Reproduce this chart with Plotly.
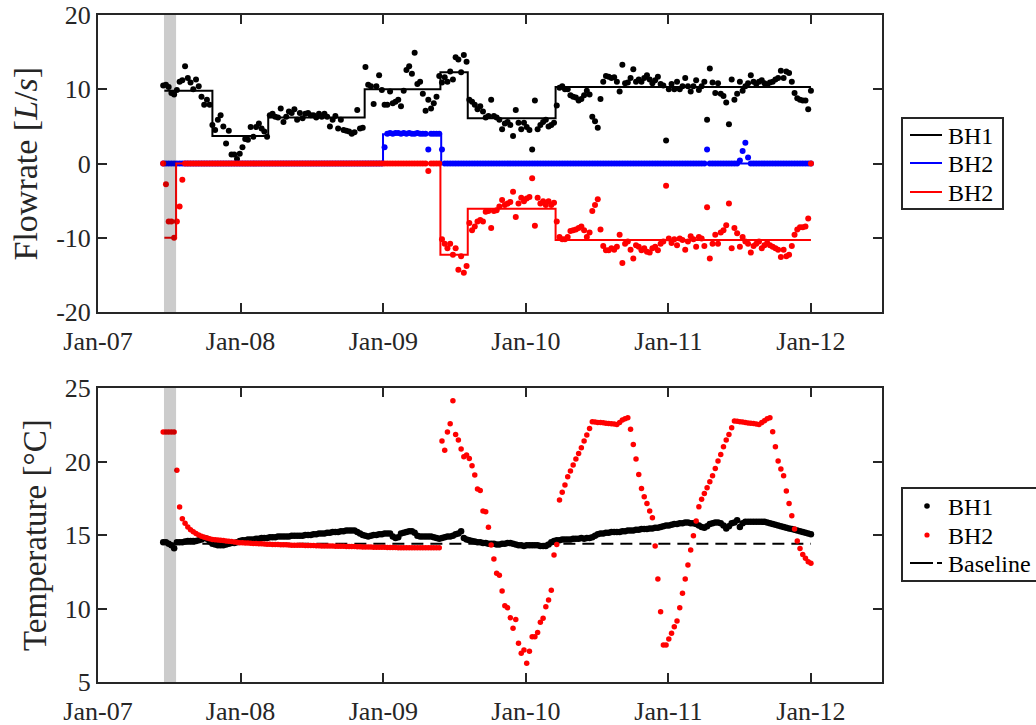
import pandas as pd
import plotly.graph_objects as go

# ---------------------------------------------------------------------------
# Weekly monitoring record, June 2007 - January 2012
# ---------------------------------------------------------------------------
sample_start = "2007-06-17"

# Flowrate of borehole BH1 [L/s]
bh1_flow = [
    10.5, 10.6, 10.3, 9.5, 9.3, 9.9, 11.0, 11.2, 13.1, 11.5,
    10.9, 10.0, 11.3, 10.4, 9.0, 7.9, 8.6, 7.9, 5.2, 4.5,
    5.9, 6.5, 5.0, 2.7, 4.4, 1.2, 1.2, 0.6, 1.3, 2.2,
    3.3, 3.2, 4.9, 3.6, 4.9, 5.4, 4.7, 4.3, 3.6, 6.5,
    6.7, 6.3, 6.2, 7.4, 5.6, 6.3, 7.0, 6.8, 7.3, 5.9,
    6.8, 6.1, 6.7, 6.8, 6.5, 6.5, 6.2, 6.7, 6.3, 6.7,
    6.3, 5.0, 5.9, 6.4, 4.7, 5.9, 4.5, 4.4, 4.3, 4.0,
    4.2, 7.2, 4.7, 4.8, 13.0, 10.6, 10.4, 8.0, 10.4, 11.9,
    9.9, 7.9, 7.9, 9.7, 8.1, 8.3, 8.6, 7.7, 9.8, 12.6,
    13.1, 12.1, 14.9, 10.7, 11.0, 9.4, 7.1, 8.6, 7.4, 8.1,
    9.0, 11.8, 10.9, 11.6, 11.0, 12.4, 11.3, 14.3, 14.0, 12.3,
    14.6, 13.7, 8.6, 8.3, 7.9, 7.3, 7.7, 7.0, 6.2, 6.4,
    8.6, 6.4, 6.2, 5.9, 4.6, 5.4, 5.6, 5.2, 3.7, 7.2,
    5.5, 4.6, 5.5, 4.9, 4.5, 1.9, 8.5, 4.6, 5.2, 5.6,
    5.9, 5.0, 5.2, 5.5, 7.8, 10.2, 10.4, 10.0, 10.0, 9.2,
    9.0, 8.9, 8.5, 8.7, 9.2, 9.8, 9.3, 6.3, 5.7, 4.8,
    8.7, 11.0, 11.8, 11.7, 11.5, 11.6, 11.0, 9.7, 13.3, 10.8,
    10.9, 11.5, 12.7, 11.0, 11.3, 11.0, 11.5, 11.9, 11.3, 10.8,
    11.2, 11.7, 10.7, 10.5, 3.1, 10.0, 10.7, 10.0, 11.0, 10.0,
    10.4, 11.5, 10.4, 9.7, 10.4, 11.2, 9.9, 10.4, 11.0, 5.9,
    12.8, 10.9, 9.5, 10.8, 9.4, 9.1, 8.2, 5.3, 11.3, 8.6,
    9.4, 11.0, 9.8, 10.4, 10.8, 11.9, 11.0, 10.7, 11.0, 11.2,
    10.8, 10.6, 10.9, 11.0, 11.3, 11.5, 12.5, 11.5, 12.4, 12.2,
    11.0, 9.5, 8.8, 8.6, 8.5, 8.5, 7.3, 9.8,
]

# Flowrate of borehole BH2, injection side [L/s]
bh2_flow_in = (
    [0.0] * 81
    + [2.2]
    + [4.0, 4.1, 4.0, 4.1, 4.1, 4.0, 4.1, 4.0, 4.1, 4.0, 4.0, 4.1, 4.0, 4.0, 4.0]
    + [1.9]
    + [4.0, 4.0, 4.0, 4.0]
    + [1.9]
    + [0.0] * 96
    + [1.9]
    + [0.0] * 11
    + [0.4, 1.7, 2.8, 0.8]
    + [0.0] * 23
)

# Flowrate of borehole BH2, extraction side [L/s]
bh2_flow_out = (
    [0.0, -2.8, -7.8, -7.8, -10.0, -7.8, -5.8, -2.2, 0.0, 0.0]
    + [0.0] * 87
    + [-1.0]
    + [0.0] * 4
    + [
        -10.2, -10.8, -11.4, -10.8, -12.3, -11.4, -14.3, -12.5,
        -14.7, -13.8, -8.0, -9.0, -8.5, -7.8, -7.6, -7.8, -6.5, -6.4,
        -8.7, -6.4, -6.3, -5.8, -4.9, -5.6, -5.4, -5.2, -3.8, -7.2,
        -5.4, -4.6, -5.1, -4.7, -4.5, -2.0, -8.4, -4.6, -5.4, -5.1,
        -5.6, -5.1, -5.6, -5.3, -7.8, -9.9, -10.2, -10.2, -9.9, -9.1,
        -9.0, -8.9, -8.7, -8.5, -9.0, -9.9, -9.3, -6.4, -5.6, -4.8,
        -8.9, -11.1, -11.7, -11.7, -11.4, -11.6, -11.2, -9.6, -13.4, -10.8,
        -10.5, -11.6, -12.8, -11.0, -11.2, -11.7, -11.4, -11.9, -12.0, -11.4,
        -11.2, -11.7, -10.8, -10.5, -3.0, -10.1, -10.7, -10.2, -11.0, -10.1,
        -10.3, -11.6, -10.5, -9.8, -10.2, -11.2, -9.9, -10.1, -11.1, -5.9,
        -12.8, -10.8, -9.6, -10.8, -9.3, -9.0, -8.3, -5.4, -11.4, -8.7,
        -9.4, -11.2, -9.9, -10.5, -10.8, -12.0, -11.1, -10.8, -10.5, -11.4,
        -11.0, -10.7, -11.0, -11.2, -11.4, -11.6, -12.6, -11.6, -12.5, -12.3,
        -11.1, -9.6, -8.9, -8.6, -8.6, -8.5, -7.4, 0.0,
    ]
)

# Operating set-points (piecewise constant schedules)
bh1_step_dates = ["2007-06-20", "2007-10-21", "2008-03-12", "2008-11-14",
                  "2009-05-27", "2009-08-05", "2010-03-18", "2012-01-01"]
bh1_step_values = [9.8, 3.7, 6.2, 10.0, 12.3, 6.1, 10.3, 10.3]

bh2_in_step_dates = ["2007-06-20", "2008-12-31", "2009-05-29", "2012-01-01"]
bh2_in_step_values = [0.0, 3.95, 0.0, 0.0]

bh2_out_step_dates = ["2007-06-20", "2007-07-20", "2009-05-27", "2009-08-05",
                      "2010-03-18", "2012-01-01"]
bh2_out_step_values = [-10.0, 0.0, -12.3, -6.1, -10.3, -10.3]

# Water temperature [deg C]
bh1_temp = [
    14.5, 14.5, 14.4, 14.3, 14.1, 14.5, 14.5, 14.5, 14.55, 14.6,
    14.6, 14.6, 14.6, 14.65, 14.7, 14.8, 14.75, 14.55, 14.4, 14.35,
    14.3, 14.3, 14.3, 14.35, 14.4, 14.45, 14.45, 14.5, 14.6, 14.65,
    14.65, 14.7, 14.7, 14.7, 14.75, 14.75, 14.8, 14.8, 14.8, 14.85,
    14.85, 14.85, 14.9, 14.9, 14.9, 14.9, 14.9, 14.95, 14.95, 14.95,
    14.95, 14.95, 15.0, 15.0, 15.0, 15.05, 15.05, 15.1, 15.1, 15.1,
    15.15, 15.15, 15.2, 15.2, 15.2, 15.25, 15.25, 15.3, 15.3, 15.3,
    15.3, 15.2, 15.1, 15.0, 14.95, 14.9, 14.95, 15.0, 15.0, 15.05,
    15.05, 15.1, 15.1, 15.1, 14.9, 14.8, 14.85, 15.1, 15.15, 15.2,
    15.25, 15.25, 15.15, 14.95, 14.9, 14.9, 14.9, 14.9, 14.9, 14.85,
    14.8, 14.75, 14.8, 14.85, 14.9, 14.9, 14.95, 15.05, 15.1, 15.25,
    14.8, 14.7, 14.65, 14.6, 14.55, 14.5, 14.5, 14.45, 14.45, 14.4,
    14.4, 14.4, 14.35, 14.35, 14.4, 14.4, 14.45, 14.45, 14.4, 14.35,
    14.3, 14.3, 14.25, 14.3, 14.3, 14.3, 14.3, 14.3, 14.25, 14.25,
    14.25, 14.35, 14.5, 14.6, 14.65, 14.65, 14.7, 14.7, 14.7, 14.7,
    14.75, 14.75, 14.75, 14.8, 14.75, 14.8, 14.8, 14.85, 14.95, 15.05,
    15.1, 15.1, 15.15, 15.15, 15.2, 15.2, 15.2, 15.2, 15.25, 15.25,
    15.3, 15.3, 15.3, 15.35, 15.35, 15.4, 15.4, 15.4, 15.45, 15.45,
    15.5, 15.5, 15.55, 15.6, 15.65, 15.65, 15.7, 15.75, 15.75, 15.8,
    15.8, 15.85, 15.85, 15.8, 15.8, 15.75, 15.65, 15.55, 15.5, 15.6,
    15.75, 15.8, 15.85, 15.85, 15.8, 15.65, 15.45, 15.6, 15.8, 15.85,
    16.0, 15.55, 15.8, 15.9, 15.9, 15.9, 15.9, 15.9, 15.9, 15.9,
    15.9, 15.85, 15.8, 15.75, 15.7, 15.65, 15.6, 15.55, 15.5, 15.45,
    15.4, 15.35, 15.3, 15.25, 15.2, 15.15, 15.1, 15.05,
]

bh2_temp = [
    22.0, 22.0, 22.0, 22.0, 22.0, 19.4, 16.9, 16.1, 15.8, 15.55,
    15.35, 15.22, 15.1, 15.0, 14.92, 14.85, 14.8, 14.75, 14.7, 14.68,
    14.66, 14.64, 14.62, 14.6, 14.58, 14.55, 14.53, 14.51, 14.48, 14.47,
    14.46, 14.45, 14.44, 14.43, 14.42, 14.41, 14.4, 14.39, 14.37, 14.37,
    14.36, 14.35, 14.35, 14.34, 14.33, 14.33, 14.32, 14.31, 14.31, 14.3,
    14.3, 14.3, 14.29, 14.29, 14.28, 14.28, 14.27, 14.27, 14.26, 14.26,
    14.25, 14.25, 14.25, 14.24, 14.24, 14.23, 14.23, 14.22, 14.22, 14.21,
    14.21, 14.2, 14.2, 14.19, 14.19, 14.18, 14.18, 14.17, 14.17, 14.16,
    14.16, 14.16, 14.15, 14.15, 14.15, 14.15, 14.14, 14.14, 14.14, 14.14,
    14.14, 14.13, 14.13, 14.13, 14.13, 14.13, 14.13, 14.13, 14.13, 14.13,
    14.13, 14.13, 21.4, 20.76, 22.0, 22.57, 24.13, 21.84, 21.46, 20.85,
    20.32, 20.44, 20.21, 19.71, 19.08, 18.13, 18.03, 16.63, 16.58, 15.52,
    14.32, 13.36, 12.39, 12.27, 11.19, 10.19, 10.05, 9.37, 8.65, 9.26,
    7.63, 6.95, 7.17, 6.27, 7.1, 8.08, 8.08, 8.37, 9.06, 9.33,
    10.12, 10.57, 11.25, 13.64, 14.36, 17.38, 17.9, 18.4, 18.96, 19.35,
    19.76, 20.17, 20.55, 20.94, 21.39, 21.8, 22.25, 22.7, 22.68, 22.66,
    22.65, 22.63, 22.61, 22.59, 22.57, 22.55, 22.52, 22.65, 22.82, 22.9,
    22.98, 22.2, 21.16, 20.17, 19.12, 18.17, 17.6, 17.15, 16.63, 16.17,
    14.25, 12.0, 9.78, 7.51, 7.51, 7.92, 8.31, 8.76, 9.15, 10.05,
    11.03, 12.0, 12.96, 13.98, 14.95, 15.95, 16.92, 17.44, 17.83, 18.22,
    18.62, 19.03, 19.53, 20.03, 20.48, 21.0, 21.46, 21.84, 22.3, 22.75,
    22.73, 22.7, 22.68, 22.65, 22.62, 22.6, 22.58, 22.55, 22.52, 22.65,
    22.78, 22.9, 22.98, 22.03, 21.0, 20.03, 19.49, 19.03, 17.99, 17.15,
    16.31, 15.4, 14.59, 14.09, 13.68, 13.41, 13.18, 13.07,
]

baseline_dates = ["2007-06-20", "2012-01-01"]
baseline_temp = [14.4, 14.4]

# Start-up period highlighted on both panels
startup_period = ["2007-06-19", "2007-07-20"]

# Axis ticks
year_ticks = ["2007-01-01", "2008-01-01", "2009-01-01",
              "2010-01-01", "2011-01-01", "2012-01-01"]
year_labels = ["Jan-07", "Jan-08", "Jan-09", "Jan-10", "Jan-11", "Jan-12"]
flow_ticks = [-20, -10, 0, 10, 20]
flow_labels = ["-20", "-10", "0", "10", "20"]
temp_ticks = [5, 10, 15, 20, 25]
temp_labels = ["5", "10", "15", "20", "25"]

# Legend entries
flow_legend_names = ["BH1", "BH2", "BH2"]
temp_legend_names = ["BH1", "BH2", "Baseline"]

weeks = pd.date_range(sample_start, periods=len(bh1_flow), freq="7D")

BLACK, BLUE, RED = "#000000", "#0000ff", "#ff0000"
AXIS = "#262626"
FONT = "Liberation Serif"
W, H = 1036, 725


def px(x):
    return x / W


def py(y):
    return 1 - y / H


fig = go.Figure()

# ---- upper panel: flowrates ----
flow_series = [
    (bh1_flow, bh1_step_dates, bh1_step_values, BLACK),
    (bh2_flow_in, bh2_in_step_dates, bh2_in_step_values, BLUE),
    (bh2_flow_out, bh2_out_step_dates, bh2_out_step_values, RED),
]
for dots, sdates, svals, color in flow_series:
    fig.add_trace(go.Scatter(x=weeks, y=dots, mode="markers",
                             marker=dict(color=color, size=6), showlegend=False,
                             xaxis="x", yaxis="y"))
    fig.add_trace(go.Scatter(x=sdates, y=svals, mode="lines",
                             line=dict(color=color, width=2, shape="hv"),
                             showlegend=False, xaxis="x", yaxis="y"))

# ---- lower panel: temperatures ----
fig.add_trace(go.Scatter(x=baseline_dates, y=baseline_temp, mode="lines",
                         line=dict(color=BLACK, width=2, dash="12px,7px"),
                         showlegend=False, xaxis="x2", yaxis="y2"))
fig.add_trace(go.Scatter(x=weeks, y=bh1_temp, mode="markers",
                         marker=dict(color=BLACK, size=6.5), showlegend=False,
                         xaxis="x2", yaxis="y2"))
fig.add_trace(go.Scatter(x=weeks, y=bh2_temp, mode="markers",
                         marker=dict(color=RED, size=5.5), showlegend=False,
                         xaxis="x2", yaxis="y2"))

shapes = []
annotations = []

# translucent band over the start-up period
for xr, yr in [("x", "y domain"), ("x2", "y2 domain")]:
    shapes.append(dict(type="rect", xref=xr, yref=yr,
                       x0=startup_period[0], x1=startup_period[1], y0=0, y1=1,
                       fillcolor="rgba(0,0,0,0.2)", line=dict(width=0),
                       layer="above"))

# ---- legend boxes ----
def legend_box(x0, y0, x1, y1):
    shapes.append(dict(type="rect", xref="paper", yref="paper",
                       x0=px(x0), x1=px(x1), y0=py(y1), y1=py(y0),
                       fillcolor="white", line=dict(color=AXIS, width=2),
                       layer="above"))


def legend_text(text, x, y):
    annotations.append(dict(text=text, x=px(x), y=py(y), xref="paper",
                            yref="paper", xanchor="left", yanchor="middle",
                            showarrow=False,
                            font=dict(family=FONT, size=24, color="#000000")))


def legend_line(x0, x1, y, color, width=2):
    shapes.append(dict(type="line", xref="paper", yref="paper",
                       x0=px(x0), x1=px(x1), y0=py(y), y1=py(y),
                       line=dict(color=color, width=width), layer="above"))


def legend_dot(x, y, color, r):
    shapes.append(dict(type="circle", xref="paper", yref="paper",
                       x0=px(x - r), x1=px(x + r), y0=py(y + r), y1=py(y - r),
                       fillcolor=color, line=dict(width=0), layer="above"))


# upper legend: line samples
legend_box(902, 118, 1003, 209)
for name, color, ry in zip(flow_legend_names, [BLACK, BLUE, RED], [135, 163, 192]):
    legend_line(910, 942, ry, color)
    legend_text(name, 946, ry + 1)

# lower legend: marker samples and dashed baseline
legend_box(902, 488, 1040, 581)
rows = [506, 535, 563]
legend_dot(927, rows[0], BLACK, 2.8)
legend_dot(927, rows[1], RED, 2.6)
legend_line(910, 933, rows[2], BLACK)
legend_line(937, 942, rows[2], BLACK)
for name, ry in zip(temp_legend_names, rows):
    legend_text(name, 946, ry + 1)

# axis titles
annotations.append(dict(text="Flowrate [<i>L</i>/<i>s</i>]", textangle=-90,
                        x=px(25.5), y=py(164), xref="paper", yref="paper",
                        xanchor="center", yanchor="middle", showarrow=False,
                        font=dict(family=FONT, size=34, color=AXIS)))
annotations.append(dict(text="Temperature [°C]", textangle=-90,
                        x=px(35), y=py(535), xref="paper", yref="paper",
                        xanchor="center", yanchor="middle", showarrow=False,
                        font=dict(family=FONT, size=33, color=AXIS)))

common_x = dict(
    type="date", range=["2007-01-01", "2012-07-01"], domain=[px(98), px(882)],
    tickmode="array", tickvals=year_ticks, ticktext=year_labels,
    ticks="inside", ticklen=9, tickwidth=2, tickcolor=AXIS,
    showline=True, linewidth=2, linecolor=AXIS, mirror="ticks",
    showgrid=False, zeroline=False, ticklabelstandoff=5,
    tickfont=dict(family=FONT, size=26, color=AXIS),
)
common_y = dict(
    ticks="inside", ticklen=9, tickwidth=2, tickcolor=AXIS,
    showline=True, linewidth=2, linecolor=AXIS, mirror="ticks",
    showgrid=False, zeroline=False, tickmode="array",
    tickfont=dict(family=FONT, size=26, color=AXIS),
)

fig.update_layout(
    width=W, height=H,
    margin=dict(l=0, r=0, t=0, b=0, autoexpand=False),
    paper_bgcolor="white", plot_bgcolor="white",
    showlegend=False,
    xaxis=dict(common_x, anchor="y"),
    xaxis2=dict(common_x, anchor="y2"),
    yaxis=dict(common_y, domain=[py(312), py(15)], range=[-20, 20],
               tickvals=flow_ticks, ticktext=flow_labels, anchor="x"),
    yaxis2=dict(common_y, domain=[py(682), py(388)], range=[5, 25],
                tickvals=temp_ticks, ticktext=temp_labels, anchor="x2"),
    shapes=shapes,
    annotations=annotations,
)

fig.write_html("out.html")
